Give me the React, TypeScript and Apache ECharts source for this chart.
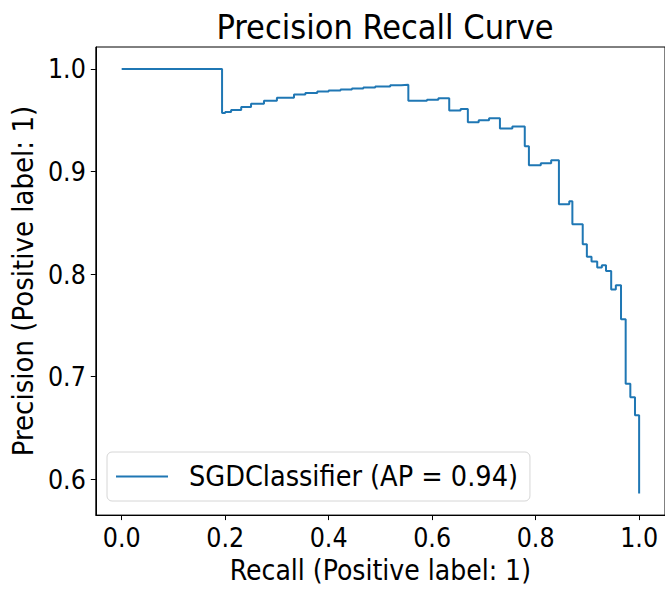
import React, { useEffect, useRef } from "react";
import * as echarts from "echarts";

const recall = [
  0, 0.194, 0.2, 0.2115, 0.231, 0.25, 0.275, 0.3, 0.333, 0.355, 0.378, 0.4, 0.423, 0.445, 0.467, 0.49,
  0.519, 0.54, 0.554, 0.59, 0.612, 0.633, 0.655, 0.669, 0.69, 0.71, 0.731, 0.755, 0.779, 0.787, 0.81,
  0.83, 0.845, 0.865, 0.871, 0.891, 0.899, 0.908, 0.919, 0.928, 0.936, 0.946, 0.955, 0.965, 0.974,
  0.983, 0.992, 1.0,
];
const precision = [
  1.0, 0.957, 0.958, 0.96, 0.963, 0.966, 0.969, 0.972, 0.975, 0.9765, 0.978, 0.979, 0.98, 0.981, 0.982,
  0.983, 0.984, 0.9845, 0.969, 0.97, 0.9715, 0.9595, 0.961, 0.948, 0.95, 0.952, 0.942, 0.944, 0.9246,
  0.906, 0.908, 0.911, 0.868, 0.871, 0.8485, 0.829, 0.817, 0.8123, 0.8065, 0.8087, 0.803, 0.785, 0.789,
  0.756, 0.693, 0.68, 0.6624, 0.586,
];
const xTicks = [0, 0.2, 0.4, 0.6, 0.8, 1.0];
const yTicks = [0.6, 0.7, 0.8, 0.9, 1.0];
const seriesName = "SGDClassifier (AP = 0.94)";
const titleText = "Precision Recall Curve";
const xName = "Recall (Positive label: 1)";
const yName = "Precision (Positive label: 1)";

const FONT = "'DejaVu Sans Condensed', 'DejaVu Sans', sans-serif";

export default function App() {
  const ref = useRef<HTMLDivElement>(null);
  useEffect(() => {
    document.body.style.margin = "0";
    const chart = echarts.init(ref.current!, null, { renderer: "svg" });
    chart.setOption({
      animation: false,
      backgroundColor: "#ffffff",
      title: {
        text: titleText,
        left: 380,
        top: 5,
        textAlign: "center",
        textStyle: { fontFamily: FONT, fontSize: 34, fontWeight: "normal", color: "#000" },
      },
      grid: {
        left: 94,
        top: 47,
        width: 572,
        height: 470,
        show: true,
        borderColor: "#000",
        borderWidth: 1,
        backgroundColor: "transparent",
      },
      legend: {
        left: 107,
        top: 452,
        orient: "vertical",
        padding: [10, 12, 10, 9],
        borderColor: "#d6d6d6",
        borderWidth: 1,
        borderRadius: 5,
        backgroundColor: "rgba(255,255,255,0.8)",
        icon: "rect",
        itemWidth: 52,
        itemHeight: 2,
        textStyle: { fontFamily: FONT, fontSize: 28.5, color: "#000", padding: [0, 0, 0, 16] },
        data: [seriesName],
      },
      xAxis: {
        type: "value",
        min: -0.05,
        max: 1.05,
        name: xName,
        nameLocation: "middle",
        nameGap: 39,
        nameTextStyle: { fontFamily: FONT, fontSize: 28, color: "#000" },
        axisLine: { show: true, onZero: false, lineStyle: { color: "#000", width: 1 } },
        axisTick: { show: true, length: 5, inside: false, customValues: xTicks, lineStyle: { color: "#000" } },
        axisLabel: {
          customValues: xTicks,
          margin: 9,
          fontFamily: FONT,
          fontSize: 26.5,
          color: "#000",
          formatter: (v: number) => v.toFixed(1),
        },
        splitLine: { show: false },
      },
      yAxis: {
        type: "value",
        min: 0.565,
        max: 1.0214,
        name: yName,
        nameLocation: "middle",
        nameGap: 47,
        nameTextStyle: { fontFamily: FONT, fontSize: 29, color: "#000" },
        axisLine: { show: true, onZero: false, lineStyle: { color: "#000", width: 1 } },
        axisTick: { show: true, length: 5, inside: false, customValues: yTicks, lineStyle: { color: "#000" } },
        axisLabel: {
          customValues: yTicks,
          margin: 10,
          fontFamily: FONT,
          fontSize: 26.5,
          color: "#000",
          formatter: (v: number) => v.toFixed(1),
        },
        splitLine: { show: false },
      },
      series: [
        {
          name: seriesName,
          type: "line",
          step: "end",
          symbol: "none",
          lineStyle: { color: "#1f77b4", width: 2 },
          itemStyle: { color: "#1f77b4" },
          data: recall.map((r, i) => [r, precision[i]]),
        },
      ],
    });
    return () => chart.dispose();
  }, []);
  return <div ref={ref} style={{ width: 665, height: 589 }} />;
}
